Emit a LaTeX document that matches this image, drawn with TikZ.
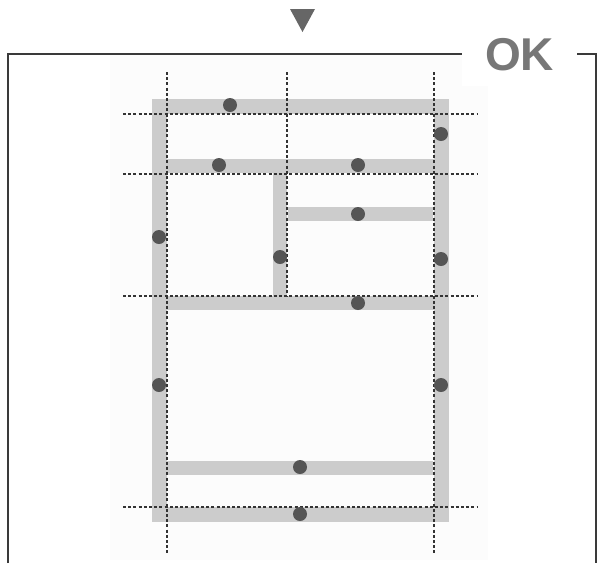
\documentclass[tikz,border=0pt]{standalone}
\usepackage{fontspec}
\setmainfont{Liberation Sans}
\definecolor{wallgray}{HTML}{CCCCCC}
\definecolor{guidegray}{HTML}{333333}
\definecolor{pingray}{HTML}{555555}
\definecolor{framegray}{HTML}{3A3A3A}
\definecolor{okgray}{HTML}{777777}
\definecolor{triangray}{HTML}{666666}
\definecolor{bggray}{HTML}{FCFCFC}
\begin{document}
\begin{tikzpicture}[x=0.5pt,y=-0.5pt,
  wall/.style={fill=wallgray, draw=none},
  guide/.style={draw=guidegray, line width=0.65pt, dash pattern=on 1.5pt off 1.1pt},
  pin/.style={circle, fill=pingray, draw=none, inner sep=0pt, minimum size=7pt},
  frameline/.style={draw=framegray, line width=0.7pt}]
\useasboundingbox (0,0) rectangle (600,563);
% background sheet
\fill[bggray] (110,55) rectangle (488,560);
% walls
\fill[wall] (152,99) rectangle (449,114);
\fill[wall] (152,99) rectangle (167,522);
\fill[wall] (434,99) rectangle (449,522);
\fill[wall] (152,507) rectangle (449,522);
\fill[wall] (167,159) rectangle (434,173);
\fill[wall] (273,173) rectangle (287,296);
\fill[wall] (288,207) rectangle (433,221);
\fill[wall] (167,296) rectangle (434,310);
\fill[wall] (167,461) rectangle (433,475);
% guides
\coordinate (v1t) at (167,72); \coordinate (v1b) at (167,553);
\coordinate (v2t) at (287,72); \coordinate (v2b) at (287,297);
\coordinate (v3t) at (434,72); \coordinate (v3b) at (434,553);
\draw[guide] (v1t) -- (v1b);
\draw[guide] (v2t) -- (v2b);
\draw[guide] (v3t) -- (v3b);
\foreach \yy/\nm in {114/h1,174/h2,296/h3,507/h4}{
  \coordinate (\nm l) at (123,\yy); \coordinate (\nm r) at (478,\yy);
  \draw[guide] (\nm l) -- (\nm r);
}
% pins
\node[pin] (p1) at (230,105) {};
\node[pin] (p2) at (441,134) {};
\node[pin] (p3) at (219,165) {};
\node[pin] (p4) at (358,165) {};
\node[pin] (p5) at (358,214) {};
\node[pin] (p6) at (159,237) {};
\node[pin] (p7) at (280,257) {};
\node[pin] (p8) at (441,259) {};
\node[pin] (p9) at (358,303) {};
\node[pin] (p10) at (159,385) {};
\node[pin] (p11) at (441,385) {};
\node[pin] (p12) at (300,467) {};
\node[pin] (p13) at (300,514) {};
% frame
\coordinate (fbl) at (8,563); \coordinate (ftl) at (8,54);
\coordinate (fgl) at (462,54); \coordinate (fgr) at (577,54);
\coordinate (ftr) at (596,54); \coordinate (fbr) at (596,563);
\fill[white] (462,30) rectangle (577,86);
\draw[frameline] (fbl) -- (ftl) -- (fgl);
\draw[frameline] (fgr) -- (ftr) -- (fbr);
\node[text=okgray, font=\bfseries\fontsize{23}{23}\selectfont, inner sep=0pt] (ok) at (519.5,55) {OK};
% marker
\fill[triangray] (290,9) -- (315,9) -- (302.5,32) -- cycle;
\end{tikzpicture}
\end{document}
